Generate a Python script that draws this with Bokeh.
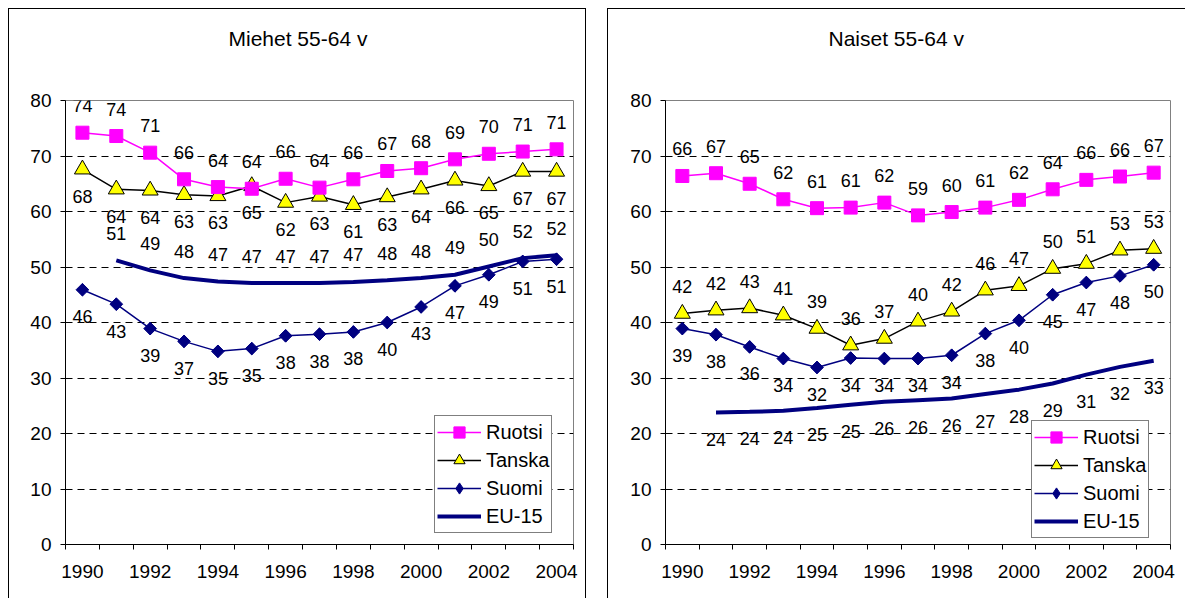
from bokeh.plotting import figure
from bokeh.models import FixedTicker, Legend, LegendItem, Range1d, Spacer, Title
from bokeh.layouts import row, column
from bokeh.core.properties import value
from bokeh.embed import file_html
from bokeh.resources import INLINE

years = list(range(1990, 2005))
eu_years = list(range(1991, 2005))
tick_years = [1990, 1992, 1994, 1996, 1998, 2000, 2002, 2004]
y_ticks = [0, 10, 20, 30, 40, 50, 60, 70, 80]

# Miehet 55-64 v
m_ruotsi = [74.2, 73.6, 70.6, 65.8, 64.4, 64.1, 65.9, 64.3, 65.8, 67.3, 67.8, 69.4, 70.4, 70.8, 71.2]
m_tanska = [67.6, 64.0, 63.8, 63.0, 62.8, 64.6, 61.6, 62.7, 61.2, 62.6, 64.0, 65.6, 64.6, 67.2, 67.2]
m_suomi = [45.9, 43.3, 38.9, 36.6, 34.8, 35.3, 37.6, 37.9, 38.3, 40.0, 42.8, 46.6, 48.6, 51.0, 51.4]
m_eu15 = [51.2, 49.4, 48.0, 47.4, 47.1, 47.1, 47.1, 47.3, 47.6, 48.0, 48.6, 50.1, 51.6, 52.1]

# Naiset 55-64 v
n_ruotsi = [66.4, 66.9, 65.0, 62.2, 60.6, 60.7, 61.6, 59.3, 59.9, 60.7, 62.1, 64.0, 65.7, 66.3, 67.0]
n_tanska = [41.6, 42.2, 42.6, 41.3, 38.9, 35.9, 37.1, 40.2, 42.0, 45.8, 46.6, 49.7, 50.6, 53.0, 53.3]
n_suomi = [38.9, 37.8, 35.6, 33.5, 31.9, 33.6, 33.5, 33.5, 34.1, 38.0, 40.4, 45.0, 47.2, 48.4, 50.4]
n_eu15 = [23.8, 23.9, 24.1, 24.6, 25.2, 25.7, 26.0, 26.3, 27.1, 27.9, 29.0, 30.6, 32.0, 33.1]

series_names = ["Ruotsi", "Tanska", "Suomi", "EU-15"]

FONT = "Liberation Sans"
LABEL_FS = "18px"
AXIS_FS = "19px"
LEG_FS = "20px"
TITLE_FS = "21px"
MAGENTA = "#FF00FF"
NAVY = "#000080"
YELLOW = "#FFFF00"


def labels(vals):
    return [str(int(round(v))) for v in vals]


def add_labels(p, xs, vals, offset):
    p.text(x=xs, y=vals, text=labels(vals), y_offset=offset,
           text_align="center", text_baseline="middle",
           text_font=value(FONT), text_font_size=LABEL_FS, text_color="black")


def make_chart(title, ruotsi, tanska, suomi, eu, tanska_off, eu_off,
               width, height, left, right, top, bottom, legend_loc, styles):
    p = figure(width=width, height=height, output_backend="svg", toolbar_location=None,
               x_range=Range1d(1989.5, 2004.5), y_range=Range1d(0, 80), title=None,
               min_border_left=left, min_border_right=right,
               min_border_top=top, min_border_bottom=bottom, styles=styles)
    p.background_fill_color = "white"
    p.border_fill_color = "white"
    p.outline_line_color = "#808080"
    p.outline_line_width = 1

    # empty spacer title between the frame and the real title
    p.add_layout(Title(text=" ", text_font=FONT, text_font_size=TITLE_FS, standoff=26), "above")
    p.add_layout(Title(text=title, align="left", offset=163, standoff=0,
                       text_font=FONT, text_font_size=TITLE_FS, text_font_style="normal",
                       text_color="black"), "above")

    p.xgrid.visible = False
    p.ygrid.ticker = FixedTicker(ticks=y_ticks)
    p.ygrid.grid_line_color = "black"
    p.ygrid.grid_line_dash = "7 5"
    p.ygrid.grid_line_width = 1

    xa = p.xaxis[0]
    xa.ticker = FixedTicker(ticks=tick_years, minor_ticks=[y - 0.5 for y in years] + [2004.5])
    xa.major_tick_line_color = None
    xa.major_tick_out = 0
    xa.major_tick_in = 0
    xa.minor_tick_line_color = "black"
    xa.minor_tick_out = 5
    xa.minor_tick_in = 0
    xa.axis_line_color = "black"
    xa.major_label_standoff = 15
    xa.major_label_text_font = FONT
    xa.major_label_text_font_size = AXIS_FS
    xa.major_label_text_color = "black"

    ya = p.yaxis[0]
    ya.ticker = FixedTicker(ticks=y_ticks)
    ya.minor_tick_line_color = None
    ya.major_tick_out = 5
    ya.major_tick_in = 0
    ya.major_tick_line_color = "black"
    ya.axis_line_color = "black"
    ya.major_label_standoff = 9
    ya.major_label_text_font = FONT
    ya.major_label_text_font_size = AXIS_FS
    ya.major_label_text_color = "black"

    # EU-15
    eu_line = p.line(eu_years, eu, line_color=NAVY, line_width=4)
    # Suomi
    s_line = p.line(years, suomi, line_color=NAVY, line_width=1.5)
    s_leg = p.scatter(years, suomi, marker="diamond", size=12, fill_color=NAVY, line_color=NAVY)
    p.rect(years, suomi, width=9, height=9, width_units="screen", height_units="screen",
           angle=0.785398, fill_color=NAVY, line_color=NAVY)
    # Tanska
    t_line = p.line(years, tanska, line_color="black", line_width=1.5)
    t_mark = p.scatter(years, tanska, marker="triangle", size=16,
                       fill_color=YELLOW, line_color="black", line_width=1)
    # Ruotsi
    r_line = p.line(years, ruotsi, line_color=MAGENTA, line_width=1.5)
    r_mark = p.scatter(years, ruotsi, marker="square", size=13,
                       fill_color=MAGENTA, line_color=MAGENTA)

    add_labels(p, years, ruotsi, -27)
    add_labels(p, years, tanska, tanska_off)
    add_labels(p, years, suomi, 27)
    add_labels(p, eu_years, eu, eu_off)

    legend = Legend(items=[
        LegendItem(label=series_names[0], renderers=[r_line, r_mark]),
        LegendItem(label=series_names[1], renderers=[t_line, t_mark]),
        LegendItem(label=series_names[2], renderers=[s_line, s_leg]),
        LegendItem(label=series_names[3], renderers=[eu_line]),
    ], location=legend_loc)
    legend.border_line_color = "black"
    legend.border_line_width = 1
    legend.background_fill_color = "white"
    legend.background_fill_alpha = 1
    legend.label_text_font = FONT
    legend.label_text_font_size = LEG_FS
    legend.label_text_color = "black"
    legend.glyph_width = 44
    legend.glyph_height = 28
    legend.label_height = 20
    legend.label_standoff = 5
    legend.spacing = 0
    legend.padding = 2
    legend.margin = 0
    p.add_layout(legend, "center")
    return p


border = "1px solid black"
p1 = make_chart("Miehet 55-64 v", m_ruotsi, m_tanska, m_suomi, m_eu15, 27, -27,
                578, 590, 56, 14, 91, 55, (369, 11),
                {"border-top": border, "border-left": border, "border-right": border})
p2 = make_chart("Naiset 55-64 v", n_ruotsi, n_tanska, n_suomi, n_eu15, -27, 27,
                578, 590, 57, 16, 91, 55, (366, 6),
                {"border-top": border, "border-left": border})

layout = column(Spacer(width=10, height=8),
                row(Spacer(width=8, height=10), p1, Spacer(width=21, height=10), p2))

open("out.html", "w").write(file_html(layout, INLINE))
